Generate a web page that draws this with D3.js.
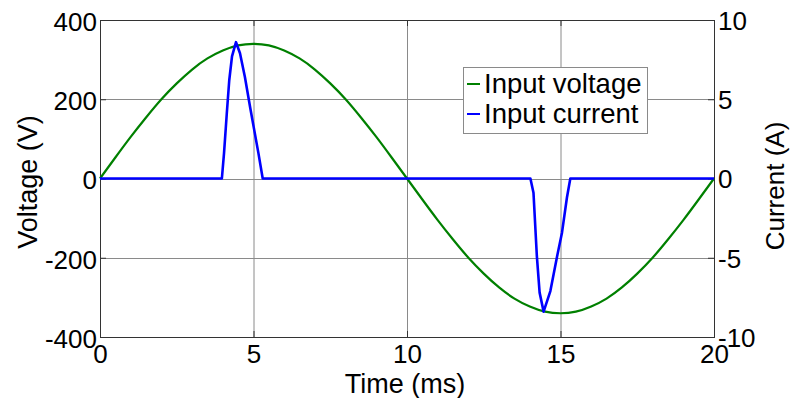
<!DOCTYPE html>
<html>
<head>
<meta charset="utf-8">
<script src="https://cdn.jsdelivr.net/npm/d3@7"></script>
<style>
  html, body { margin: 0; padding: 0; background: #fff; }
  svg { display: block; }
  text { font-family: "Liberation Sans", Arial, sans-serif; fill: #000; }
</style>
</head>
<body>
<svg id="chart" width="790" height="398"></svg>
<script>
// Time axis samples (ms) and input voltage (V) at those times
const timeV = [0, 0.5, 1, 1.5, 2, 2.5, 3, 3.5, 4, 4.5, 5, 5.5, 6, 6.5, 7, 7.5, 8, 8.5, 9, 9.5,
               10, 10.5, 11, 11.5, 12, 12.5, 13, 13.5, 14, 14.5, 15, 15.5, 16, 16.5, 17, 17.5, 18, 18.5, 19, 19.5, 20];
const voltage = [0, 53, 105, 154, 200, 240, 275, 303, 323, 336, 340, 336, 323, 303, 275, 240, 200, 154, 105, 53,
                 0, -53, -105, -154, -200, -240, -275, -303, -323, -336, -340, -336, -323, -303, -275, -240, -200, -154, -105, -53, 0];

// Input current pulses (A) drawn by the rectifier near the voltage peaks
const timeI = [0, 3.97, 4.04, 4.13, 4.21, 4.30, 4.43, 4.56, 4.72, 4.89, 5.02, 5.16, 5.30,
               14.02, 14.12, 14.23, 14.32, 14.45, 14.67, 14.89, 15.05, 15.21, 15.32, 20];
const current = [0, 0, 1.6, 4.1, 6.2, 7.7, 8.6, 7.9, 6.4, 4.5, 3.1, 1.6, 0,
                 0, -0.9, -4.9, -7.2, -8.4, -7.1, -4.9, -3.4, -1.2, 0, 0];

const xTicks = [0, 5, 10, 15, 20];
const vTicks = [-400, -200, 0, 200, 400];
const iTicks = [-10, -5, 0, 5, 10];
const seriesNames = ["Input voltage", "Input current"];
const seriesColors = ["#008000", "#0000ff"];

const svg = d3.select("#chart");
const L = 100, R = 714, T = 20, B = 337;

const x = d3.scaleLinear().domain([0, 20]).range([L, R]);
const yV = d3.scaleLinear().domain([-400, 400]).range([B, T]);
const yI = d3.scaleLinear().domain([-10, 10]).range([B, T]);

// plain hyphen-minus for negative tick labels
const fmt = d => String(d);

// grid
const grid = svg.append("g").attr("stroke", "#8a8a8a").attr("stroke-width", 1);
xTicks.slice(1, -1).forEach(t => {
  grid.append("line").attr("x1", x(t) + 0.5).attr("x2", x(t) + 0.5).attr("y1", T).attr("y2", B);
});
vTicks.slice(1, -1).forEach(t => {
  grid.append("line").attr("x1", L).attr("x2", R).attr("y1", Math.round(yV(t)) + 0.5).attr("y2", Math.round(yV(t)) + 0.5);
});

// axes (inward ticks, no domain path; the box is drawn separately)
const fs = 26;
const axB = svg.append("g").attr("transform", `translate(0,${B})`)
  .call(d3.axisBottom(x).tickValues(xTicks).tickSize(-6).tickPadding(8).tickFormat(fmt));
const axT = svg.append("g").attr("transform", `translate(0,${T})`)
  .call(d3.axisTop(x).tickValues(xTicks).tickSize(-6).tickFormat(""));
const axL = svg.append("g").attr("transform", `translate(${L},0)`)
  .call(d3.axisLeft(yV).tickValues(vTicks).tickSize(-6).tickPadding(3).tickFormat(fmt));
const axR = svg.append("g").attr("transform", `translate(${R},0)`)
  .call(d3.axisRight(yI).tickValues(iTicks).tickSize(-6).tickPadding(4).tickFormat(fmt));

[axB, axT, axL, axR].forEach(a => {
  a.select(".domain").remove();
  a.selectAll(".tick line").attr("stroke", "#333");
  a.selectAll(".tick text").attr("font-size", fs).attr("font-family", "Liberation Sans, Arial, sans-serif").attr("fill", "#000");
});
axB.selectAll(".tick text").attr("dy", "0.71em").attr("y", 8);
axL.selectAll(".tick text").attr("dy", "0.4em");
axR.selectAll(".tick text").attr("dy", "0.36em");

// legend box (drawn before lines so the traces stay on top)
const lgX = 463, lgY = 67, lgW = 184, lgH = 66;
svg.append("rect").attr("x", lgX + 0.5).attr("y", lgY + 0.5).attr("width", lgW).attr("height", lgH)
  .attr("fill", "#fff").attr("stroke", "#8a8a8a").attr("stroke-width", 1);

// plot box
svg.append("rect").attr("x", L + 0.5).attr("y", T + 0.5).attr("width", R - L).attr("height", B - T)
  .attr("fill", "none").attr("stroke", "#333").attr("stroke-width", 1);

// traces
const vLine = d3.line().x((d, i) => x(timeV[i])).y(d => yV(d)).curve(d3.curveNatural);
svg.append("path").datum(voltage).attr("d", vLine)
  .attr("fill", "none").attr("stroke", seriesColors[0]).attr("stroke-width", 2.2);

const iLine = d3.line().x((d, i) => x(timeI[i])).y(d => yI(d));
svg.append("path").datum(current).attr("d", iLine)
  .attr("fill", "none").attr("stroke", seriesColors[1]).attr("stroke-width", 2.6)
  .attr("stroke-linejoin", "round");

// legend entries
seriesNames.forEach((name, k) => {
  const cy = 84 + k * 30;
  svg.append("line").attr("x1", 467).attr("x2", 480).attr("y1", cy).attr("y2", cy)
    .attr("stroke", seriesColors[k]).attr("stroke-width", 2);
  svg.append("text").attr("x", 484).attr("y", cy + 9).attr("font-size", 27.5).text(name);
});

// axis titles
svg.append("text").attr("x", 405).attr("y", 393).attr("text-anchor", "middle")
  .attr("font-size", 27).text("Time (ms)");
svg.append("text").attr("transform", "translate(37,182) rotate(-90)").attr("text-anchor", "middle")
  .attr("font-size", 27).text("Voltage (V)");
svg.append("text").attr("transform", "translate(784,186) rotate(-90)").attr("text-anchor", "middle")
  .attr("font-size", 26).text("Current (A)");
</script>
</body>
</html>
